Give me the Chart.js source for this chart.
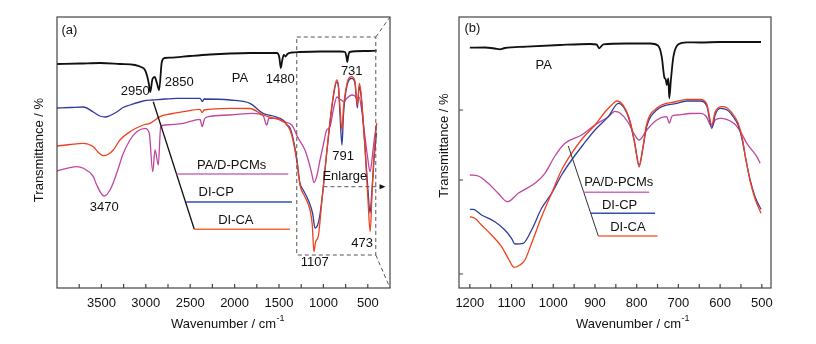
<!DOCTYPE html>
<html>
<head>
<meta charset="utf-8">
<script src="https://cdn.jsdelivr.net/npm/chart.js@4.4.0/dist/chart.umd.min.js"></script>
<style>
  body { margin: 0; background: #fff; }
  #wrap { position: relative; width: 816px; height: 344px; }
  canvas { position: absolute; top: 0; }
</style>
</head>
<body>
<div id="wrap">
  <canvas id="chartA" width="410" height="344" style="left:0"></canvas>
  <canvas id="chartB" width="406" height="344" style="left:410px"></canvas>
</div>
<script>
// FTIR spectra, [wavenumber cm-1, transmittance (a.u.)]
const paA = [[4000,224],[3741,224.5],[3516,225],[3291,224],[3122,223],[3054,221],[3009,218],[2985,212],[2965,204],
  [2950,196],[2925,209],[2900,211],[2875,205],[2850,198],[2820,226],[2790,230],[2727,230.3],[2502,232],[2277,233.5],
  [2052,234.5],[1827,235],[1601,235],[1523,235],[1497,231],[1480,220],[1463,228],[1445,233],[1425,231.5],[1405,234],
  [1354,235.5],[1264,236],[1038,236.5],[813,236.5],[755,236],[742,232],[731,226],[720,232],[705,236],[532,237],[400,237.3]];
const cpA = [[4000,180],[3854,180.5],[3704,181],[3591,176],[3516,172],[3459,171],[3403,172.5],[3328,176],[3257,180.5],
  [3178,183],[3028,187],[2919,188],[2840,188.5],[2652,189.7],[2390,189.7],[2362,186.5],[2345,189],[2052,188],[1827,184.7],
  [1680,174.7],[1568,172],[1455,168],[1410,163],[1376,160],[1343,150],[1298,128],[1264,105],[1227,98],[1171,88],
  [1120,74],[1095,60],[1065,63],[1038,74],[1001,101],[963,135],[926,165],[889,191],[850,206],[830,200],[813,173],
  [791,143],[774,173],[757,190],[723,206],[682,209.7],[645,205],[618,180],[596,201],[577,193],[554,168],[532,141],
  [498,98],[475,75],[453,98],[430,128],[402,155]];
const caA = [[4000,142],[3854,143.5],[3704,144.7],[3591,141.3],[3538,136],[3479,132.3],[3426,133.5],[3366,138],[3291,148],
  [3178,156.3],[3028,163],[2953,164.7],[2919,166.5],[2840,171.3],[2727,174],[2577,176.3],[2390,178.7],[2364,175.3],
  [2345,178],[2052,179.7],[1827,179.5],[1680,173],[1568,170],[1455,167],[1410,163],[1376,158],[1343,148],[1298,126],
  [1264,103],[1208,91.3],[1151,78],[1125,63],[1107,36.3],[1088,46],[1057,52],[1019,85],[982,118],[945,151.3],[903,183],
  [850,208],[830,202],[813,180],[791,158],[774,180],[757,193],[723,208],[682,211.3],[645,207],[618,183],[596,204.7],
  [577,196],[554,170],[532,141],[498,88],[473,56.3],[453,93],[430,133],[400,164.7]];
const pcmA = [[4000,117],[3778,121.3],[3704,119.7],[3591,111.3],[3553,103],[3470,92],[3403,98],[3328,114.7],[3253,134.7],
  [3178,148],[3102,156.3],[3009,159.7],[2961,155],[2922,116.3],[2896,138],[2859,123],[2832,161.3],[2784,163],[2577,164.7],
  [2390,168.7],[2364,161.3],[2339,169],[2296,171.3],[2052,173],[1793,174.7],[1680,172.5],[1638,163],[1612,170],
  [1526,169.7],[1455,166.3],[1357,163],[1283,149.7],[1208,138],[1171,128],[1132,114.7],[1106,105.3],[1076,111.3],
  [1038,128],[1001,143],[963,158],[926,161.3],[889,178],[847,191],[802,188],[768,186.3],[734,190],[682,193],[645,192],
  [622,189.7],[599,191],[566,176],[532,151.3],[498,128],[475,116.3],[447,133],[425,150],[400,164.7]];

const paB = [[1200,240.3],[1164,240.5],[1140,239.5],[1128,238.7],[1116,240],[1064,241.3],[984,243],[912,244],[896,243.5],
  [890,239.7],[880,243.7],[824,244.5],[768,244.5],[749,242.5],[740,231.3],[734,211.3],[730,208],[728,203],[724,209.7],
  [722,189.7],[718,208],[712,231.3],[700,243.7],[680,245.7],[648,245.5],[600,246],[552,246],[502,246]];
const cpB = [[1200,78.7],[1192,78.7],[1172,73],[1140,66.3],[1116,58],[1100,49.7],[1092,44],[1072,44.7],[1052,58],
  [1028,79.7],[1004,94.7],[980,113],[956,128],[929,143],[900,158],[868,171.3],[844,184.7],[830,180],[816,166],[804,143],
  [794,123],[785,140],[776,161.3],[752,178],[704,184.7],[680,187],[648,187],[632,182],[620,159.7],[612,173],[600,179.7],
  [583,178],[568,171],[557,163],[547,148],[538,128],[528,108],[516,91],[502,78.7]];
const caB = [[1200,71.3],[1188,69.7],[1172,63],[1148,53],[1124,41.3],[1108,29.7],[1094,20.7],[1080,23],[1068,28],
  [1052,44.7],[1028,71.3],[1004,94.7],[980,118],[956,134.7],[929,150],[900,163],[876,176],[860,183],[848,187],[833,183],
  [818,170],[806,148],[794,121],[785,141],[776,164],[752,179.7],[704,186.5],[680,188.7],[648,188.5],[632,184],[620,163],
  [612,176],[596,181.3],[583,180],[568,173],[557,165],[547,150],[538,128],[528,107],[516,89],[502,74.7]];
const pcmB = [[1200,113],[1180,112],[1156,104.7],[1132,94.7],[1110,86.3],[1084,94.7],[1044,104.7],[1020,114.7],[996,132],
  [972,144.7],[932,153],[900,163],[868,171.3],[852,176.7],[840,175],[821,166],[806,154],[794,148],[776,158],[752,168],
  [728,171.3],[722,165],[715,172],[704,173],[672,174.5],[648,174.7],[634,172],[620,161.3],[612,168],[600,169.7],
  [568,165],[552,157],[536,144.7],[512,131.3],[504,124.7]];

const ticksA = [3500, 3000, 2500, 2000, 1500, 1000, 500];
const minorA = [3750, 3250, 2750, 2250, 1750, 1250, 750];
const ticksB = [1200, 1100, 1000, 900, 800, 700, 600, 500];
const minorB = [1150, 1050, 950, 850, 750, 650, 550];
const yTicksB = [178, 108, 14];

const names = ['PA', 'DI-CA', 'DI-CP', 'PA/D-PCMs'];
const colors = ['#111111', '#f0401e', '#2d3e9e', '#c2449f'];
const keyColors = ['#111111', '#f4683c', '#3c4cae', '#cc6cbe'];
const FONT = '"Liberation Sans", Arial, sans-serif';

function makeDecor(cfg) {
  return {
    id: 'decor',
    afterDatasetsDraw(chart) {
      const ctx = chart.ctx, a = chart.chartArea;
      const px = v => chart.scales.x.getPixelForValue(v);
      const py = v => chart.scales.y.getPixelForValue(v);
      ctx.save();

      // frame and inward ticks
      ctx.strokeStyle = '#444';
      ctx.lineWidth = 1.2;
      ctx.strokeRect(a.left, a.top, a.width, a.height);
      ctx.beginPath();
      cfg.ticks.concat(cfg.minor).forEach(v => {
        ctx.moveTo(px(v), a.bottom);
        ctx.lineTo(px(v), a.bottom - 4);
      });
      cfg.yTicks.forEach(v => {
        ctx.moveTo(a.left, py(v));
        ctx.lineTo(a.left + 4, py(v));
      });
      ctx.stroke();

      ctx.fillStyle = '#111';
      ctx.textBaseline = 'middle';
      ctx.textAlign = 'center';
      ctx.font = '13px ' + FONT;
      cfg.ticks.forEach(v => ctx.fillText(String(v), px(v), a.bottom + 15));

      // x title with superscript
      const base = 'Wavenumber / cm', sup = '-1';
      const w1 = ctx.measureText(base).width;
      ctx.font = '9px ' + FONT;
      const w2 = ctx.measureText(sup).width;
      const x0 = px(cfg.xTitleAt) - (w1 + w2) / 2;
      ctx.textAlign = 'left';
      ctx.font = '13px ' + FONT;
      ctx.fillText(base, x0, a.bottom + 36);
      ctx.font = '9px ' + FONT;
      ctx.fillText(sup, x0 + w1 + 0.5, a.bottom + 31);

      // y title
      ctx.save();
      ctx.translate(a.left + cfg.yTitleDx, py(cfg.yTitleAt));
      ctx.rotate(-Math.PI / 2);
      ctx.textAlign = 'center';
      ctx.font = '13px ' + FONT;
      ctx.fillText('Transmittance / %', 0, 0);
      ctx.restore();

      // enlarged region marker
      if (cfg.box) {
        const [x1, x2, y1, y2] = cfg.box;
        ctx.strokeStyle = '#555';
        ctx.lineWidth = 1;
        ctx.setLineDash([4, 3]);
        ctx.strokeRect(px(x1), py(y2), px(x2) - px(x1), py(y1) - py(y2));
        ctx.beginPath();
        ctx.moveTo(px(x2), py(y2));
        ctx.lineTo(a.right, a.top);
        ctx.moveTo(px(x2), py(y1));
        ctx.lineTo(a.right, a.bottom);
        const [ax1, ax2, ay] = cfg.arrow;
        ctx.moveTo(px(ax1), py(ay));
        ctx.lineTo(px(ax2) - 6, py(ay));
        ctx.stroke();
        ctx.setLineDash([]);
        ctx.fillStyle = '#111';
        ctx.beginPath();
        ctx.moveTo(px(ax2), py(ay));
        ctx.lineTo(px(ax2) - 6, py(ay) - 2.5);
        ctx.lineTo(px(ax2) - 6, py(ay) + 2.5);
        ctx.closePath();
        ctx.fill();
      }

      // key: leader line, coloured strokes, names
      ctx.strokeStyle = cfg.leaderColor;
      ctx.lineWidth = cfg.leaderWidth;
      ctx.beginPath();
      ctx.moveTo(px(cfg.leader[0][0]), py(cfg.leader[0][1]));
      ctx.lineTo(px(cfg.leader[1][0]), py(cfg.leader[1][1]));
      ctx.stroke();
      cfg.key.forEach(k => {
        ctx.strokeStyle = keyColors[k.idx];
        ctx.lineWidth = 1.5;
        ctx.beginPath();
        ctx.moveTo(px(k.from), py(k.at));
        ctx.lineTo(px(k.to), py(k.at));
        ctx.stroke();
        ctx.fillStyle = '#111';
        ctx.textAlign = 'center';
        ctx.font = '13px ' + FONT;
        ctx.fillText(names[k.idx], px(k.tx), py(k.ty));
      });

      // band and panel notes
      ctx.fillStyle = '#111';
      ctx.textAlign = 'center';
      ctx.font = '13px ' + FONT;
      cfg.notes.forEach(([t, x, y]) => ctx.fillText(t, px(x), py(y)));
      ctx.restore();
    }
  };
}

function spectrum(el, series, xMin, xMax, pad, cfg) {
  return new Chart(document.getElementById(el), {
    type: 'line',
    data: {
      datasets: series.map((s, i) => ({
        label: names[i],
        data: s.map(([x, y]) => ({ x, y })),
        borderColor: colors[i],
        borderWidth: i === 0 ? 1.8 : 1.3,
        pointRadius: 0,
        fill: false,
        cubicInterpolationMode: 'monotone'
      }))
    },
    options: {
      responsive: false,
      animation: false,
      events: [],
      layout: { padding: pad },
      scales: {
        x: { type: 'linear', min: xMin, max: xMax, reverse: true, display: false },
        y: { min: 0, max: 271, display: false }
      },
      plugins: { legend: { display: false }, tooltip: { enabled: false } }
    },
    plugins: [makeDecor(cfg)]
  });
}

spectrum('chartA', [paA, caA, cpA, pcmA], 250, 4000,
  { left: 57, top: 17, right: 20, bottom: 56 },
  {
    ticks: ticksA, minor: minorA, yTicks: [],
    xTitleAt: 2080, yTitleAt: 138, yTitleDx: -18,
    box: [1300, 410, 33, 251], arrow: [1000, 300, 101.3],
    leader: [[2916, 186.3], [2454, 58.7]], leaderColor: '#111', leaderWidth: 1.3,
    key: [
      { idx: 3, from: 2652, to: 1395, at: 114, tx: 2033, ty: 123 },
      { idx: 2, from: 2547, to: 1354, at: 86, tx: 2207, ty: 95.7 },
      { idx: 1, from: 2454, to: 1376, at: 58.7, tx: 1986, ty: 68 }
    ],
    notes: [['(a)', 3861, 258], ['2950', 3119, 197], ['2850', 2624, 205.3], ['PA', 1939, 209.7],
      ['1480', 1485, 208.7], ['731', 681, 217], ['791', 779, 132], ['Enlarge', 759, 111.3],
      ['1107', 1098, 25.3], ['473', 563, 44.7], ['3470', 3468, 80.7]]
  });

spectrum('chartB', [paB, caB, cpB, pcmB], 478, 1226,
  { left: 49, top: 17, right: 45, bottom: 56 },
  {
    ticks: ticksB, minor: minorB, yTicks: yTicksB,
    xTitleAt: 810, yTitleAt: 142.5, yTitleDx: -15,
    leader: [[964, 142], [892, 52]], leaderColor: '#333', leaderWidth: 1,
    key: [
      { idx: 3, from: 928, to: 770, at: 95.7, tx: 843, ty: 105.3 },
      { idx: 2, from: 912, to: 756, at: 74.7, tx: 841, ty: 83 },
      { idx: 1, from: 892, to: 750, at: 52, tx: 821, ty: 60.7 }
    ],
    notes: [['(b)', 1194, 259.7], ['PA', 1023, 223]]
  });
</script>
</body>
</html>
